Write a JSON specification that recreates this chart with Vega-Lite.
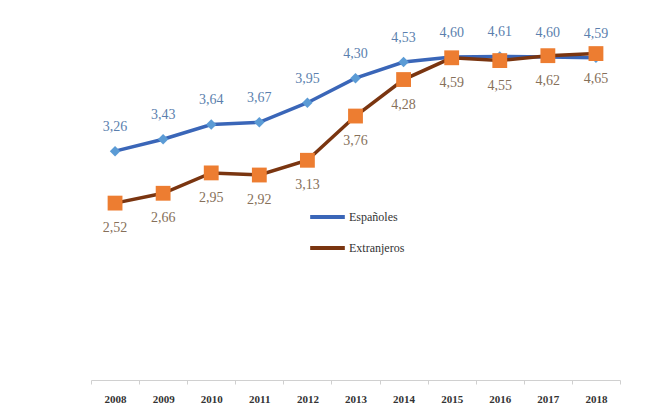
{
  "$schema": "https://vega.github.io/schema/vega-lite/v6.json",
  "width": 529,
  "height": 351,
  "padding": {"left": 90, "top": 25, "right": 10, "bottom": 5},
  "background": "white",
  "config": {
    "view": {"stroke": null},
    "locale": {"number": {"decimal": ",", "thousands": ".", "grouping": [3], "currency": ["", " €"]}}
  },
  "data": {
    "values": [
      {"year": "2008", "serie": "Españoles", "value": 3.26},
      {"year": "2009", "serie": "Españoles", "value": 3.43},
      {"year": "2010", "serie": "Españoles", "value": 3.64},
      {"year": "2011", "serie": "Españoles", "value": 3.67},
      {"year": "2012", "serie": "Españoles", "value": 3.95},
      {"year": "2013", "serie": "Españoles", "value": 4.30},
      {"year": "2014", "serie": "Españoles", "value": 4.53},
      {"year": "2015", "serie": "Españoles", "value": 4.60},
      {"year": "2016", "serie": "Españoles", "value": 4.61},
      {"year": "2017", "serie": "Españoles", "value": 4.60},
      {"year": "2018", "serie": "Españoles", "value": 4.59},
      {"year": "2008", "serie": "Extranjeros", "value": 2.52},
      {"year": "2009", "serie": "Extranjeros", "value": 2.66},
      {"year": "2010", "serie": "Extranjeros", "value": 2.95},
      {"year": "2011", "serie": "Extranjeros", "value": 2.92},
      {"year": "2012", "serie": "Extranjeros", "value": 3.13},
      {"year": "2013", "serie": "Extranjeros", "value": 3.76},
      {"year": "2014", "serie": "Extranjeros", "value": 4.28},
      {"year": "2015", "serie": "Extranjeros", "value": 4.59},
      {"year": "2016", "serie": "Extranjeros", "value": 4.55},
      {"year": "2017", "serie": "Extranjeros", "value": 4.62},
      {"year": "2018", "serie": "Extranjeros", "value": 4.65}
    ]
  },
  "encoding": {
    "x": {
      "field": "year",
      "type": "ordinal",
      "scale": {"paddingInner": 0, "paddingOuter": 0},
      "axis": {
        "title": null,
        "labelAngle": 0,
        "tickBand": "extent",
        "domainColor": "#d0d0d0",
        "tickColor": "#d0d0d0",
        "tickSize": 4,
        "labelFont": "Liberation Serif",
        "labelFontWeight": "bold",
        "labelFontSize": 11,
        "labelColor": "#333333",
        "labelPadding": 9
      }
    },
    "y": {
      "field": "value",
      "type": "quantitative",
      "scale": {"domain": [0, 5], "nice": false, "zero": true},
      "axis": null
    }
  },
  "layer": [
    {
      "mark": {"type": "line", "strokeWidth": 3.5},
      "encoding": {
        "color": {
          "field": "serie",
          "type": "nominal",
          "scale": {"domain": ["Españoles", "Extranjeros"], "range": ["#3a66b8", "#7a3510"]},
          "legend": {
            "title": null,
            "orient": "none",
            "legendX": 217,
            "legendY": 180,
            "symbolType": "stroke",
            "symbolStrokeWidth": 4,
            "symbolSize": 1200,
            "clipHeight": 16,
            "rowPadding": 15,
            "labelFont": "Liberation Serif",
            "labelFontSize": 12,
            "labelColor": "#333333",
            "labelOffset": 2
          }
        }
      }
    },
    {
      "mark": {"type": "point", "filled": true, "opacity": 1},
      "encoding": {
        "fill": {"condition": {"test": "datum.serie === 'Españoles'", "value": "#5b9bd5"}, "value": "#ed7d31"},
        "shape": {"condition": {"test": "datum.serie === 'Españoles'", "value": "diamond"}, "value": "square"},
        "size": {"condition": {"test": "datum.serie === 'Españoles'", "value": 110}, "value": 220}
      }
    },
    {
      "transform": [{"filter": "datum.serie === 'Españoles'"}],
      "mark": {"type": "text", "dy": -24, "font": "Liberation Serif", "fontSize": 14, "color": "#5b7fae"},
      "encoding": {"text": {"field": "value", "type": "quantitative", "format": ".2f"}}
    },
    {
      "transform": [{"filter": "datum.serie === 'Extranjeros'"}],
      "mark": {"type": "text", "dy": 25, "font": "Liberation Serif", "fontSize": 14, "color": "#86705a"},
      "encoding": {"text": {"field": "value", "type": "quantitative", "format": ".2f"}}
    }
  ]
}
